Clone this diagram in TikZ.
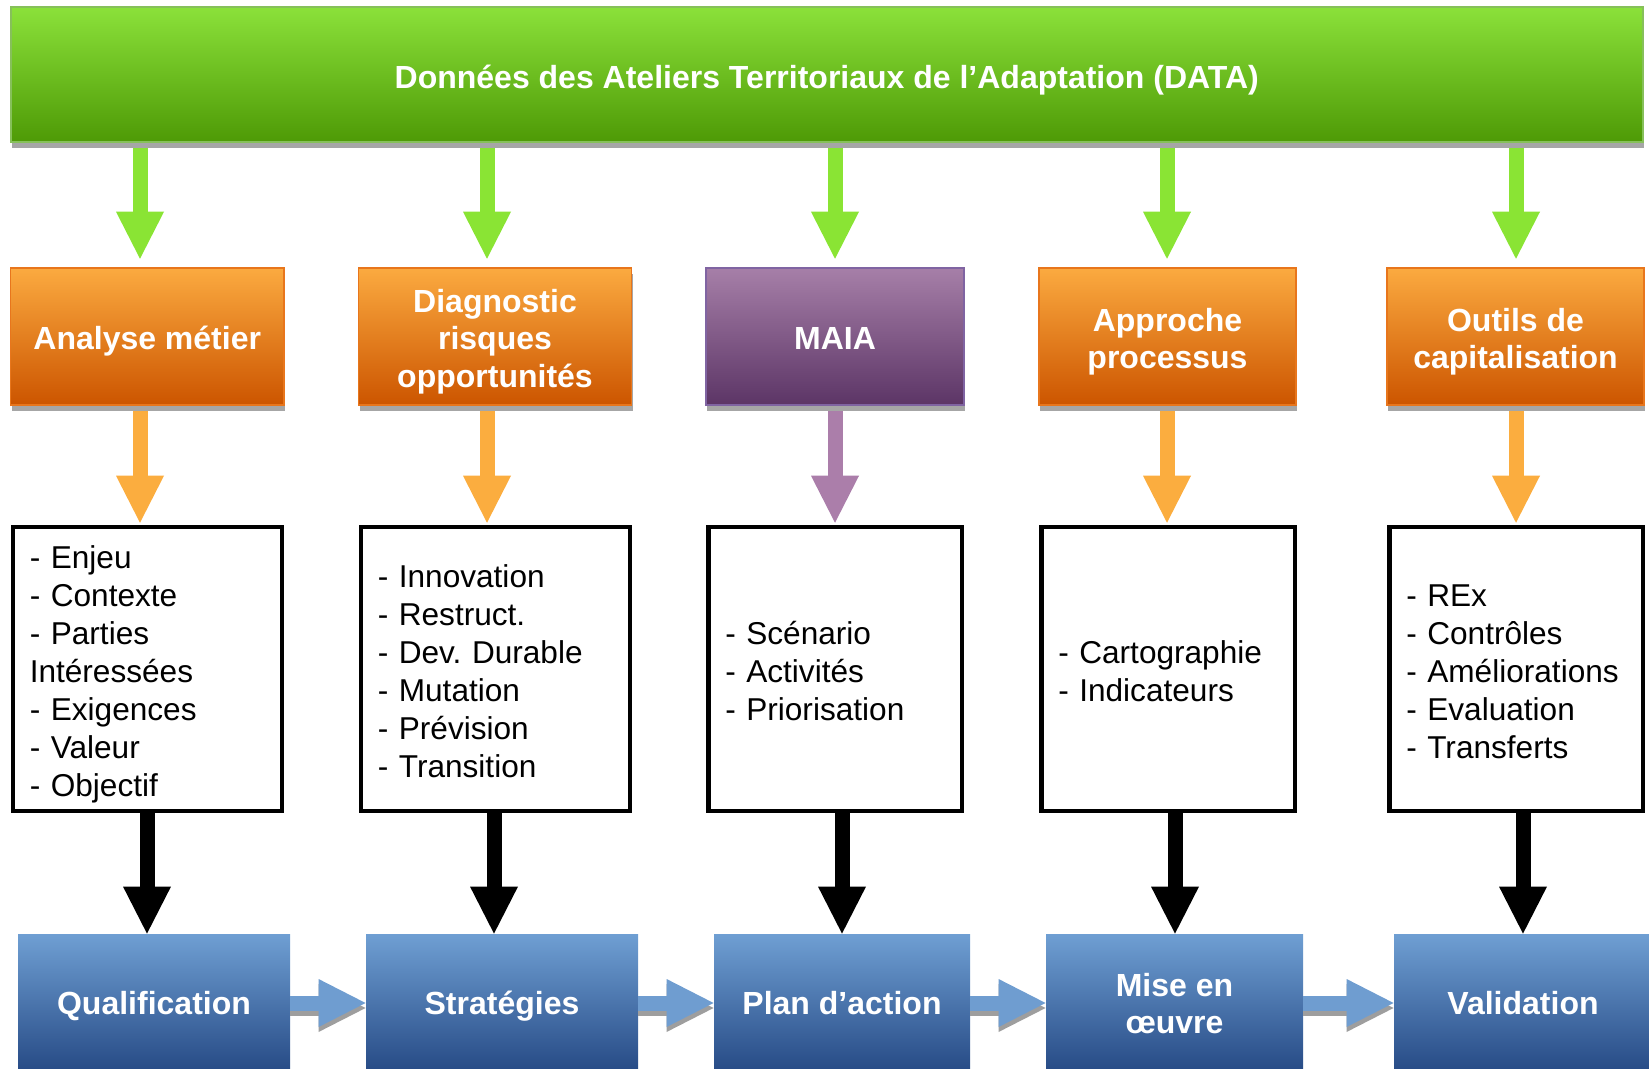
\documentclass[tikz,border=0pt]{standalone}
\usepackage{fontspec}
\setmainfont{Liberation Sans}
\usetikzlibrary{arrows.meta,shadows,backgrounds}

\definecolor{gtop}{HTML}{8BE13A}
\definecolor{gbot}{HTML}{4E9A06}
\definecolor{gline}{HTML}{86C05A}
\definecolor{garr}{HTML}{8AE434}
\definecolor{otop}{HTML}{FBAA40}
\definecolor{obot}{HTML}{CC5500}
\definecolor{oline}{HTML}{E8761C}
\definecolor{oarr}{HTML}{FBAD3F}
\definecolor{ptop}{HTML}{A67FA8}
\definecolor{pbot}{HTML}{5C3566}
\definecolor{pline}{HTML}{8064A2}
\definecolor{parr}{HTML}{AB7EAA}
\definecolor{btop}{HTML}{6F9FD3}
\definecolor{bbot}{HTML}{264A85}
\definecolor{barr}{HTML}{6F9DD0}

\newcommand\hstrut[1]{\rule{0pt}{#1}}

\tikzset{
  lbl/.style={font=\fontsize{16}{18.7}\selectfont\bfseries, text=white, align=center, inner sep=0pt,
    execute at begin node={\hstrut{#1}}, execute at end node={\rule[-3.5pt]{0pt}{3.5pt}}},
  lbl/.default=17pt,
  boxshadow/.style={general shadow={fill=black!35, shadow xshift=0.5pt, shadow yshift=-3pt}},
  databox/.style={lbl=17.3pt, draw=gline, line width=0.75pt, top color=gtop, bottom color=gbot, minimum width=816pt, minimum height=67.5pt, boxshadow},
  orangebox/.style={lbl, draw=oline, line width=0.75pt, top color=otop, bottom color=obot, minimum height=68.5pt, boxshadow},
  maiabox/.style={lbl, draw=pline, line width=0.75pt, top color=ptop, bottom color=pbot, minimum height=68.5pt, boxshadow},
  listbox/.style={draw=black, line width=2.25pt, fill=white, font=\fontsize{15.8}{19}\selectfont, align=left, inner xsep=8.5pt, minimum height=142pt,
    execute at begin node={\hstrut{16.9pt}}, execute at end node={\rule[-3.5pt]{0pt}{3.5pt}}},
  bluebox/.style={lbl=15.3pt, top color=btop, bottom color=bbot, minimum height=69pt},
  fat/.style={line width=7.5pt, -{Triangle[width=24pt,length=23.5pt,line width=0pt]}}
}

\begin{document}
\frenchspacing
\begin{tikzpicture}[x=0.5pt,y=-0.5pt]
\path[use as bounding box] (0,0) rectangle (1649,1069);
\clip (0,0) rectangle (1649,1069);

\node[databox] (data) at (826.75,74.5) {Données des Ateliers Territoriaux de l’Adaptation (DATA)};

\node[orangebox, minimum width=136.75pt] (am) at (147.25,336.5) {Analyse métier};
\node[orangebox, minimum width=136.5pt] (dro) at (495,336.5) {\hstrut{17pt}Diagnostic\\risques\\opportunités};
\node[maiabox, minimum width=129pt] (maia) at (835,336.5) {MAIA};
\node[orangebox, minimum width=128.5pt] (ap) at (1167.5,336.5) {\hstrut{17pt}Approche\\processus};
\node[orangebox, minimum width=128.5pt] (oc) at (1515.5,336.5) {\hstrut{17pt}Outils de\\capitalisation};

\node[listbox, text width=117.5pt] (w1) at (147.25,669) {- Enjeu\\- Contexte\\- Parties\\Intéressées\\- Exigences\\- Valeur\\- Objectif};
\node[listbox, text width=117.5pt] (w2) at (495.3,669) {- Innovation\\- Restruct.\\- Dev. Durable\\- Mutation\\- Prévision\\- Transition};
\node[listbox, text width=109.75pt] (w3) at (835,669) {- Scénario\\- Activités\\- Priorisation};
\node[listbox, text width=109.75pt] (w4) at (1168,669) {- Cartographie\\- Indicateurs};
\node[listbox, text width=109.75pt] (w5) at (1516,669) {- REx\\- Contrôles\\- Améliorations\\- Evaluation\\- Transferts};

\node[bluebox, minimum width=136pt] (q) at (154,1003) {Qualification};
\node[bluebox, minimum width=136pt] (s) at (502,1003) {Stratégies};
\node[bluebox, minimum width=128pt] (p) at (842,1003) {Plan d’action};
\node[bluebox, minimum width=128.5pt] (m) at (1174.5,1003) {\hstrut{15.3pt}Mise en\\œuvre};
\node[bluebox, minimum width=129pt] (v) at (1523,1003) {Validation};

\begin{pgfonlayer}{background}
\foreach \o/\w/\b/\ux/\lx/\c in {am/w1/q/140/147/oarr, dro/w2/s/487/494/oarr, maia/w3/p/835/842/parr, ap/w4/m/1167/1175/oarr, oc/w5/v/1516/1523/oarr}{
  \coordinate (u) at (\ux,0);
  \coordinate (l) at (\lx,0);
  \draw[fat, color=garr, shorten >=4.25pt] (data.south -| u) -- (\o.north -| u);
  \draw[fat, color=\c, shorten >=1pt] (\o.south -| u) -- (\w.north -| u);
  \draw[fat, color=black] (\w.south -| l) -- (\b.north -| l);
}
\end{pgfonlayer}

\foreach \a/\b in {q/s, s/p, p/m, m/v}{
  \draw[fat, color=black!38] ([yshift=-2.5pt]\a.east) -- ([yshift=-2.5pt]\b.west);
  \draw[fat, color=barr] (\a.east) -- (\b.west);
}

\end{tikzpicture}
\end{document}
